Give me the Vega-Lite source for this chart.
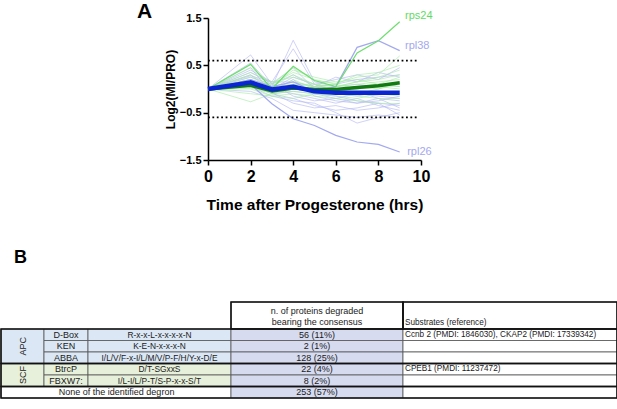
{
"$schema": "https://vega.github.io/schema/vega-lite/v6.json",
"padding": 0,
"background": "white",
"config": {"view": {"stroke": null}, "font": "Liberation Sans", "text": {"font": "Liberation Sans"}},
"datasets": {
"series": [
{"p":"L01","g":"RPL","t":0,"v":0},{"p":"L01","g":"RPL","t":2,"v":0.72},{"p":"L01","g":"RPL","t":3,"v":0.10},{"p":"L01","g":"RPL","t":4,"v":0.30},{"p":"L01","g":"RPL","t":5,"v":0.05},{"p":"L01","g":"RPL","t":6,"v":0.10},{"p":"L01","g":"RPL","t":7,"v":0.20},{"p":"L01","g":"RPL","t":8,"v":0.25},{"p":"L01","g":"RPL","t":9,"v":0.30},
{"p":"L02","g":"RPL","t":0,"v":0},{"p":"L02","g":"RPL","t":2,"v":0.55},{"p":"L02","g":"RPL","t":3,"v":0.05},{"p":"L02","g":"RPL","t":4,"v":1.03},{"p":"L02","g":"RPL","t":5,"v":0.15},{"p":"L02","g":"RPL","t":6,"v":0.05},{"p":"L02","g":"RPL","t":7,"v":0.10},{"p":"L02","g":"RPL","t":8,"v":0.05},{"p":"L02","g":"RPL","t":9,"v":0.15},
{"p":"L03","g":"RPL","t":0,"v":0},{"p":"L03","g":"RPL","t":2,"v":0.40},{"p":"L03","g":"RPL","t":3,"v":0.15},{"p":"L03","g":"RPL","t":4,"v":0.85},{"p":"L03","g":"RPL","t":5,"v":0.10},{"p":"L03","g":"RPL","t":6,"v":-0.05},{"p":"L03","g":"RPL","t":7,"v":0.00},{"p":"L03","g":"RPL","t":8,"v":0.10},{"p":"L03","g":"RPL","t":9,"v":0.05},
{"p":"L04","g":"RPL","t":0,"v":0},{"p":"L04","g":"RPL","t":2,"v":0.30},{"p":"L04","g":"RPL","t":3,"v":-0.05},{"p":"L04","g":"RPL","t":4,"v":0.20},{"p":"L04","g":"RPL","t":5,"v":-0.15},{"p":"L04","g":"RPL","t":6,"v":-0.25},{"p":"L04","g":"RPL","t":7,"v":-0.30},{"p":"L04","g":"RPL","t":8,"v":-0.20},{"p":"L04","g":"RPL","t":9,"v":-0.40},
{"p":"L05","g":"RPL","t":0,"v":0},{"p":"L05","g":"RPL","t":2,"v":0.20},{"p":"L05","g":"RPL","t":3,"v":0.00},{"p":"L05","g":"RPL","t":4,"v":-0.10},{"p":"L05","g":"RPL","t":5,"v":-0.20},{"p":"L05","g":"RPL","t":6,"v":-0.30},{"p":"L05","g":"RPL","t":7,"v":-0.20},{"p":"L05","g":"RPL","t":8,"v":-0.35},{"p":"L05","g":"RPL","t":9,"v":-0.45},
{"p":"L06","g":"RPL","t":0,"v":0},{"p":"L06","g":"RPL","t":2,"v":0.10},{"p":"L06","g":"RPL","t":3,"v":-0.10},{"p":"L06","g":"RPL","t":4,"v":-0.20},{"p":"L06","g":"RPL","t":5,"v":-0.35},{"p":"L06","g":"RPL","t":6,"v":-0.45},{"p":"L06","g":"RPL","t":7,"v":-0.40},{"p":"L06","g":"RPL","t":8,"v":-0.30},{"p":"L06","g":"RPL","t":9,"v":-0.55},
{"p":"L07","g":"RPL","t":0,"v":0},{"p":"L07","g":"RPL","t":2,"v":0.05},{"p":"L07","g":"RPL","t":3,"v":-0.15},{"p":"L07","g":"RPL","t":4,"v":-0.25},{"p":"L07","g":"RPL","t":5,"v":-0.30},{"p":"L07","g":"RPL","t":6,"v":-0.50},{"p":"L07","g":"RPL","t":7,"v":-0.72},{"p":"L07","g":"RPL","t":8,"v":-0.60},{"p":"L07","g":"RPL","t":9,"v":-0.50},
{"p":"L08","g":"RPL","t":0,"v":0},{"p":"L08","g":"RPL","t":2,"v":0.25},{"p":"L08","g":"RPL","t":3,"v":0.10},{"p":"L08","g":"RPL","t":4,"v":0.45},{"p":"L08","g":"RPL","t":5,"v":0.00},{"p":"L08","g":"RPL","t":6,"v":-0.10},{"p":"L08","g":"RPL","t":7,"v":-0.15},{"p":"L08","g":"RPL","t":8,"v":-0.05},{"p":"L08","g":"RPL","t":9,"v":-0.10},
{"p":"L09","g":"RPL","t":0,"v":0},{"p":"L09","g":"RPL","t":2,"v":0.15},{"p":"L09","g":"RPL","t":3,"v":0.05},{"p":"L09","g":"RPL","t":4,"v":0.10},{"p":"L09","g":"RPL","t":5,"v":-0.10},{"p":"L09","g":"RPL","t":6,"v":-0.15},{"p":"L09","g":"RPL","t":7,"v":-0.25},{"p":"L09","g":"RPL","t":8,"v":-0.30},{"p":"L09","g":"RPL","t":9,"v":-0.35},
{"p":"L10","g":"RPL","t":0,"v":0},{"p":"L10","g":"RPL","t":2,"v":0.35},{"p":"L10","g":"RPL","t":3,"v":0.12},{"p":"L10","g":"RPL","t":4,"v":-0.15},{"p":"L10","g":"RPL","t":5,"v":-0.25},{"p":"L10","g":"RPL","t":6,"v":-0.20},{"p":"L10","g":"RPL","t":7,"v":-0.10},{"p":"L10","g":"RPL","t":8,"v":-0.15},{"p":"L10","g":"RPL","t":9,"v":-0.20},
{"p":"L11","g":"RPL","t":0,"v":0},{"p":"L11","g":"RPL","t":2,"v":-0.05},{"p":"L11","g":"RPL","t":3,"v":-0.20},{"p":"L11","g":"RPL","t":4,"v":-0.45},{"p":"L11","g":"RPL","t":5,"v":-0.50},{"p":"L11","g":"RPL","t":6,"v":-0.55},{"p":"L11","g":"RPL","t":7,"v":-0.60},{"p":"L11","g":"RPL","t":8,"v":-0.55},{"p":"L11","g":"RPL","t":9,"v":-0.60},
{"p":"L12","g":"RPL","t":0,"v":0},{"p":"L12","g":"RPL","t":2,"v":0.18},{"p":"L12","g":"RPL","t":3,"v":0.00},{"p":"L12","g":"RPL","t":4,"v":0.25},{"p":"L12","g":"RPL","t":5,"v":0.10},{"p":"L12","g":"RPL","t":6,"v":0.20},{"p":"L12","g":"RPL","t":7,"v":0.30},{"p":"L12","g":"RPL","t":8,"v":0.20},{"p":"L12","g":"RPL","t":9,"v":0.45},
{"p":"L13","g":"RPL","t":0,"v":0},{"p":"L13","g":"RPL","t":2,"v":0.10},{"p":"L13","g":"RPL","t":3,"v":-0.05},{"p":"L13","g":"RPL","t":4,"v":0.05},{"p":"L13","g":"RPL","t":5,"v":-0.05},{"p":"L13","g":"RPL","t":6,"v":-0.10},{"p":"L13","g":"RPL","t":7,"v":-0.05},{"p":"L13","g":"RPL","t":8,"v":-0.20},{"p":"L13","g":"RPL","t":9,"v":-0.25},
{"p":"L14","g":"RPL","t":0,"v":0},{"p":"L14","g":"RPL","t":2,"v":0.28},{"p":"L14","g":"RPL","t":3,"v":0.15},{"p":"L14","g":"RPL","t":4,"v":0.15},{"p":"L14","g":"RPL","t":5,"v":0.05},{"p":"L14","g":"RPL","t":6,"v":0.25},{"p":"L14","g":"RPL","t":7,"v":0.15},{"p":"L14","g":"RPL","t":8,"v":0.35},{"p":"L14","g":"RPL","t":9,"v":0.25},
{"p":"L15","g":"RPL","t":0,"v":0},{"p":"L15","g":"RPL","t":2,"v":0.45},{"p":"L15","g":"RPL","t":3,"v":-0.10},{"p":"L15","g":"RPL","t":4,"v":-0.05},{"p":"L15","g":"RPL","t":5,"v":-0.10},{"p":"L15","g":"RPL","t":6,"v":-0.20},{"p":"L15","g":"RPL","t":7,"v":-0.30},{"p":"L15","g":"RPL","t":8,"v":-0.25},{"p":"L15","g":"RPL","t":9,"v":-0.15},
{"p":"L16","g":"RPL","t":0,"v":0},{"p":"L16","g":"RPL","t":2,"v":0.12},{"p":"L16","g":"RPL","t":3,"v":-0.08},{"p":"L16","g":"RPL","t":4,"v":-0.30},{"p":"L16","g":"RPL","t":5,"v":-0.40},{"p":"L16","g":"RPL","t":6,"v":-0.35},{"p":"L16","g":"RPL","t":7,"v":-0.45},{"p":"L16","g":"RPL","t":8,"v":-0.40},{"p":"L16","g":"RPL","t":9,"v":-0.30},
{"p":"rpl38","g":"RPL","t":0,"v":0},{"p":"rpl38","g":"RPL","t":2,"v":0.20},{"p":"rpl38","g":"RPL","t":3,"v":0.05},{"p":"rpl38","g":"RPL","t":4,"v":0.15},{"p":"rpl38","g":"RPL","t":5,"v":-0.05},{"p":"rpl38","g":"RPL","t":6,"v":0.05},{"p":"rpl38","g":"RPL","t":7,"v":0.88},{"p":"rpl38","g":"RPL","t":8,"v":1.02},{"p":"rpl38","g":"RPL","t":9,"v":0.81},
{"p":"rpl26","g":"RPL","t":0,"v":0},{"p":"rpl26","g":"RPL","t":2,"v":0.10},{"p":"rpl26","g":"RPL","t":3,"v":-0.31},{"p":"rpl26","g":"RPL","t":4,"v":-0.63},{"p":"rpl26","g":"RPL","t":5,"v":-0.77},{"p":"rpl26","g":"RPL","t":6,"v":-0.98},{"p":"rpl26","g":"RPL","t":7,"v":-1.12},{"p":"rpl26","g":"RPL","t":8,"v":-1.17},{"p":"rpl26","g":"RPL","t":9,"v":-1.33},
{"p":"S01","g":"RPS","t":0,"v":0},{"p":"S01","g":"RPS","t":2,"v":0.45},{"p":"S01","g":"RPS","t":3,"v":0.12},{"p":"S01","g":"RPS","t":4,"v":0.45},{"p":"S01","g":"RPS","t":5,"v":0.18},{"p":"S01","g":"RPS","t":6,"v":0.12},{"p":"S01","g":"RPS","t":7,"v":0.25},{"p":"S01","g":"RPS","t":8,"v":0.30},{"p":"S01","g":"RPS","t":9,"v":0.70},
{"p":"S02","g":"RPS","t":0,"v":0},{"p":"S02","g":"RPS","t":2,"v":-0.27},{"p":"S02","g":"RPS","t":3,"v":-0.10},{"p":"S02","g":"RPS","t":4,"v":0.00},{"p":"S02","g":"RPS","t":5,"v":-0.05},{"p":"S02","g":"RPS","t":6,"v":0.00},{"p":"S02","g":"RPS","t":7,"v":0.05},{"p":"S02","g":"RPS","t":8,"v":0.10},{"p":"S02","g":"RPS","t":9,"v":0.05},
{"p":"S03","g":"RPS","t":0,"v":0},{"p":"S03","g":"RPS","t":2,"v":0.30},{"p":"S03","g":"RPS","t":3,"v":0.05},{"p":"S03","g":"RPS","t":4,"v":0.30},{"p":"S03","g":"RPS","t":5,"v":0.10},{"p":"S03","g":"RPS","t":6,"v":0.05},{"p":"S03","g":"RPS","t":7,"v":0.15},{"p":"S03","g":"RPS","t":8,"v":0.25},{"p":"S03","g":"RPS","t":9,"v":0.40},
{"p":"S04","g":"RPS","t":0,"v":0},{"p":"S04","g":"RPS","t":2,"v":0.20},{"p":"S04","g":"RPS","t":3,"v":-0.05},{"p":"S04","g":"RPS","t":4,"v":0.20},{"p":"S04","g":"RPS","t":5,"v":0.00},{"p":"S04","g":"RPS","t":6,"v":0.05},{"p":"S04","g":"RPS","t":7,"v":0.10},{"p":"S04","g":"RPS","t":8,"v":0.15},{"p":"S04","g":"RPS","t":9,"v":0.20},
{"p":"S05","g":"RPS","t":0,"v":0},{"p":"S05","g":"RPS","t":2,"v":0.10},{"p":"S05","g":"RPS","t":3,"v":0.00},{"p":"S05","g":"RPS","t":4,"v":0.10},{"p":"S05","g":"RPS","t":5,"v":0.05},{"p":"S05","g":"RPS","t":6,"v":-0.05},{"p":"S05","g":"RPS","t":7,"v":-0.10},{"p":"S05","g":"RPS","t":8,"v":0.00},{"p":"S05","g":"RPS","t":9,"v":0.10},
{"p":"S06","g":"RPS","t":0,"v":0},{"p":"S06","g":"RPS","t":2,"v":0.05},{"p":"S06","g":"RPS","t":3,"v":-0.10},{"p":"S06","g":"RPS","t":4,"v":-0.05},{"p":"S06","g":"RPS","t":5,"v":-0.10},{"p":"S06","g":"RPS","t":6,"v":-0.15},{"p":"S06","g":"RPS","t":7,"v":-0.20},{"p":"S06","g":"RPS","t":8,"v":-0.10},{"p":"S06","g":"RPS","t":9,"v":-0.05},
{"p":"S07","g":"RPS","t":0,"v":0},{"p":"S07","g":"RPS","t":2,"v":0.15},{"p":"S07","g":"RPS","t":3,"v":0.10},{"p":"S07","g":"RPS","t":4,"v":0.35},{"p":"S07","g":"RPS","t":5,"v":0.20},{"p":"S07","g":"RPS","t":6,"v":0.10},{"p":"S07","g":"RPS","t":7,"v":0.30},{"p":"S07","g":"RPS","t":8,"v":0.35},{"p":"S07","g":"RPS","t":9,"v":0.50},
{"p":"S08","g":"RPS","t":0,"v":0},{"p":"S08","g":"RPS","t":2,"v":0.00},{"p":"S08","g":"RPS","t":3,"v":-0.15},{"p":"S08","g":"RPS","t":4,"v":-0.10},{"p":"S08","g":"RPS","t":5,"v":-0.15},{"p":"S08","g":"RPS","t":6,"v":-0.20},{"p":"S08","g":"RPS","t":7,"v":-0.25},{"p":"S08","g":"RPS","t":8,"v":-0.30},{"p":"S08","g":"RPS","t":9,"v":-0.31},
{"p":"S09","g":"RPS","t":0,"v":0},{"p":"S09","g":"RPS","t":2,"v":0.25},{"p":"S09","g":"RPS","t":3,"v":0.05},{"p":"S09","g":"RPS","t":4,"v":0.15},{"p":"S09","g":"RPS","t":5,"v":0.05},{"p":"S09","g":"RPS","t":6,"v":0.10},{"p":"S09","g":"RPS","t":7,"v":0.00},{"p":"S09","g":"RPS","t":8,"v":0.05},{"p":"S09","g":"RPS","t":9,"v":0.00},
{"p":"S10","g":"RPS","t":0,"v":0},{"p":"S10","g":"RPS","t":2,"v":0.08},{"p":"S10","g":"RPS","t":3,"v":-0.05},{"p":"S10","g":"RPS","t":4,"v":0.05},{"p":"S10","g":"RPS","t":5,"v":0.00},{"p":"S10","g":"RPS","t":6,"v":0.05},{"p":"S10","g":"RPS","t":7,"v":0.15},{"p":"S10","g":"RPS","t":8,"v":0.20},{"p":"S10","g":"RPS","t":9,"v":0.30},
{"p":"S11","g":"RPS","t":0,"v":0},{"p":"S11","g":"RPS","t":2,"v":0.35},{"p":"S11","g":"RPS","t":3,"v":0.15},{"p":"S11","g":"RPS","t":4,"v":0.25},{"p":"S11","g":"RPS","t":5,"v":0.10},{"p":"S11","g":"RPS","t":6,"v":-0.05},{"p":"S11","g":"RPS","t":7,"v":-0.05},{"p":"S11","g":"RPS","t":8,"v":-0.10},{"p":"S11","g":"RPS","t":9,"v":-0.15},
{"p":"S12","g":"RPS","t":0,"v":0},{"p":"S12","g":"RPS","t":2,"v":-0.10},{"p":"S12","g":"RPS","t":3,"v":-0.15},{"p":"S12","g":"RPS","t":4,"v":-0.20},{"p":"S12","g":"RPS","t":5,"v":-0.10},{"p":"S12","g":"RPS","t":6,"v":-0.10},{"p":"S12","g":"RPS","t":7,"v":-0.15},{"p":"S12","g":"RPS","t":8,"v":-0.20},{"p":"S12","g":"RPS","t":9,"v":-0.20},
{"p":"S13","g":"RPS","t":0,"v":0},{"p":"S13","g":"RPS","t":2,"v":0.12},{"p":"S13","g":"RPS","t":3,"v":0.05},{"p":"S13","g":"RPS","t":4,"v":0.40},{"p":"S13","g":"RPS","t":5,"v":0.25},{"p":"S13","g":"RPS","t":6,"v":0.15},{"p":"S13","g":"RPS","t":7,"v":0.20},{"p":"S13","g":"RPS","t":8,"v":0.10},{"p":"S13","g":"RPS","t":9,"v":0.25},
{"p":"S14","g":"RPS","t":0,"v":0},{"p":"S14","g":"RPS","t":2,"v":0.02},{"p":"S14","g":"RPS","t":3,"v":-0.08},{"p":"S14","g":"RPS","t":4,"v":0.10},{"p":"S14","g":"RPS","t":5,"v":0.10},{"p":"S14","g":"RPS","t":6,"v":0.00},{"p":"S14","g":"RPS","t":7,"v":0.05},{"p":"S14","g":"RPS","t":8,"v":0.00},{"p":"S14","g":"RPS","t":9,"v":0.15},
{"p":"rps24","g":"RPS","t":0,"v":0},{"p":"rps24","g":"RPS","t":2,"v":0.52},{"p":"rps24","g":"RPS","t":3,"v":0.00},{"p":"rps24","g":"RPS","t":4,"v":0.48},{"p":"rps24","g":"RPS","t":5,"v":0.18},{"p":"rps24","g":"RPS","t":6,"v":0.05},{"p":"rps24","g":"RPS","t":7,"v":0.76},{"p":"rps24","g":"RPS","t":8,"v":1.02},{"p":"rps24","g":"RPS","t":9,"v":1.42}
],
"means": [
{"g":"RPS mean","t":0,"v":0},{"g":"RPS mean","t":2,"v":0.08},{"g":"RPS mean","t":3,"v":-0.04},{"g":"RPS mean","t":4,"v":0.02},{"g":"RPS mean","t":5,"v":-0.01},{"g":"RPS mean","t":6,"v":-0.01},{"g":"RPS mean","t":7,"v":0.03},{"g":"RPS mean","t":8,"v":0.07},{"g":"RPS mean","t":9,"v":0.13},
{"g":"RPL mean","t":0,"v":0},{"g":"RPL mean","t":2,"v":0.14},{"g":"RPL mean","t":3,"v":-0.01},{"g":"RPL mean","t":4,"v":0.05},{"g":"RPL mean","t":5,"v":-0.05},{"g":"RPL mean","t":6,"v":-0.08},{"g":"RPL mean","t":7,"v":-0.08},{"g":"RPL mean","t":8,"v":-0.08},{"g":"RPL mean","t":9,"v":-0.08}
],
"thresholds": [{"y":0.6,"x0":0,"x1":9.8},{"y":-0.6,"x0":0,"x1":9.8}],
"labels": [{"label":"rps24","g":"RPS","t":9.25,"v":1.55},{"label":"rpl38","g":"RPL","t":9.25,"v":0.91},{"label":"rpl26","g":"RPL","t":9.35,"v":-1.33}],
"cells": [
{"c0":3,"c1":4,"r0":0,"r1":1,"k":"plain"},{"c0":4,"c1":5,"r0":0,"r1":1,"k":"plain"},
{"c0":0,"c1":1,"r0":1,"r1":4,"k":"APC"},
{"c0":1,"c1":2,"r0":1,"r1":2,"k":"APC"},{"c0":2,"c1":3,"r0":1,"r1":2,"k":"APC"},{"c0":3,"c1":4,"r0":1,"r1":2,"k":"count"},{"c0":4,"c1":5,"r0":1,"r1":2,"k":"plain"},
{"c0":1,"c1":2,"r0":2,"r1":3,"k":"APC"},{"c0":2,"c1":3,"r0":2,"r1":3,"k":"APC"},{"c0":3,"c1":4,"r0":2,"r1":3,"k":"count"},{"c0":4,"c1":5,"r0":2,"r1":3,"k":"plain"},
{"c0":1,"c1":2,"r0":3,"r1":4,"k":"APC"},{"c0":2,"c1":3,"r0":3,"r1":4,"k":"APC"},{"c0":3,"c1":4,"r0":3,"r1":4,"k":"count"},{"c0":4,"c1":5,"r0":3,"r1":4,"k":"plain"},
{"c0":0,"c1":1,"r0":4,"r1":6,"k":"SCF"},
{"c0":1,"c1":2,"r0":4,"r1":5,"k":"SCF"},{"c0":2,"c1":3,"r0":4,"r1":5,"k":"SCF"},{"c0":3,"c1":4,"r0":4,"r1":5,"k":"count"},{"c0":4,"c1":5,"r0":4,"r1":5,"k":"plain"},
{"c0":1,"c1":2,"r0":5,"r1":6,"k":"SCF"},{"c0":2,"c1":3,"r0":5,"r1":6,"k":"SCF"},{"c0":3,"c1":4,"r0":5,"r1":6,"k":"count"},{"c0":4,"c1":5,"r0":5,"r1":6,"k":"plain"},
{"c0":0,"c1":3,"r0":6,"r1":7,"k":"plain"},{"c0":3,"c1":4,"r0":6,"r1":7,"k":"count"},{"c0":4,"c1":5,"r0":6,"r1":7,"k":"plain"}
],
"frames": [
{"c0":0,"c1":5,"r0":1,"r1":4},{"c0":0,"c1":5,"r0":4,"r1":6},{"c0":0,"c1":5,"r0":6,"r1":7},{"c0":3,"c1":4,"r0":0,"r1":1},{"c0":4,"c1":5,"r0":0,"r1":1}
],
"texts": [
{"txt":["n. of proteins degraded","bearing the consensus"],"col":"count","xm":3.5,"ym":0.33},
{"txt":"Substrates (reference)","col":"substrates","xm":4,"ym":0.78},
{"txt":"APC","col":"group","xm":0.5,"ym":2.5},
{"txt":"SCF","col":"group","xm":0.5,"ym":5},
{"txt":"D-Box","col":"degron","xm":1.5,"ym":1.5},
{"txt":"R-x-x-L-x-x-x-x-N","col":"consensus","xm":2.5,"ym":1.5},
{"txt":"56 (11%)","col":"count","xm":3.5,"ym":1.5},
{"txt":"Ccnb 2 (PMDI: 1846030), CKAP2 (PMDI: 17339342)","col":"substrates","xm":4,"ym":1.5},
{"txt":"KEN","col":"degron","xm":1.5,"ym":2.5},
{"txt":"K-E-N-x-x-x-N","col":"consensus","xm":2.5,"ym":2.5},
{"txt":"2 (1%)","col":"count","xm":3.5,"ym":2.5},
{"txt":"ABBA","col":"degron","xm":1.5,"ym":3.5},
{"txt":"I/L/V/F-x-I/L/M/V/P-F/H/Y-x-D/E","col":"consensus","xm":2.5,"ym":3.5},
{"txt":"128 (25%)","col":"count","xm":3.5,"ym":3.5},
{"txt":"BtrcP","col":"degron","xm":1.5,"ym":4.5},
{"txt":"D/T-SGxxS","col":"consensus","xm":2.5,"ym":4.5},
{"txt":"22 (4%)","col":"count","xm":3.5,"ym":4.5},
{"txt":"CPEB1 (PMDI: 11237472)","col":"substrates","xm":4,"ym":4.5},
{"txt":"FBXW7:","col":"degron","xm":1.5,"ym":5.5},
{"txt":"I/L-I/L/P-T/S-P-x-x-S/T","col":"consensus","xm":2.5,"ym":5.5},
{"txt":"8 (2%)","col":"count","xm":3.5,"ym":5.5},
{"txt":"None of the identified degron","col":"none","xm":2.2,"ym":6.5},
{"txt":"253 (57%)","col":"count","xm":3.5,"ym":6.5}
]
},
"spacing": 36,
"vconcat": [
{
"spacing": 0,
"hconcat": [
{"width": 136, "height": 10, "data": {"values": []}, "mark": "point"},
{
"width": 213,
"height": 142,
"title": {"text": "A", "anchor": "start", "frame": "group", "fontSize": 21, "fontWeight": "bold", "font": "Liberation Sans", "dx": -71, "offset": -12, "color": "black"},
"layer": [
{
"data": {"name": "series"},
"transform": [{"filter": {"not": {"field": "p", "oneOf": ["rps24", "rpl38", "rpl26"]}}}],
"mark": {"type": "line", "strokeWidth": 0.9, "opacity": 0.7},
"encoding": {
"x": {"field": "t", "type": "quantitative", "scale": {"domain": [0, 10], "nice": false},
"axis": {"values": [0, 2, 4, 6, 8, 10], "title": "Time after Progesterone (hrs)", "titleFontSize": 15.5, "titleFontWeight": "bold", "titleColor": "black", "titleFont": "Liberation Sans", "titlePadding": 13, "labelFontSize": 16, "labelFontWeight": "bold", "labelColor": "black", "labelFont": "Liberation Sans", "labelPadding": 3, "labelFlush": false, "domainColor": "black", "domainWidth": 1.5, "tickColor": "black", "tickWidth": 1.5, "tickSize": 5, "grid": false}},
"y": {"field": "v", "type": "quantitative", "scale": {"domain": [-1.5, 1.5], "nice": false},
"axis": {"values": [-1.5, -1, -0.5, 0, 0.5, 1, 1.5], "format": ".1f", "title": "Log2(MI/PRO)", "titleFontSize": 12, "titleFontWeight": "bold", "titleColor": "black", "titleFont": "Liberation Sans", "titlePadding": 2, "labelFontSize": 11, "labelFontWeight": "bold", "labelColor": "black", "labelFont": "Liberation Sans", "labelPadding": 2, "domainColor": "black", "domainWidth": 1.5, "tickColor": "black", "tickWidth": 1.5, "tickSize": 5, "grid": false}},
"detail": {"field": "p", "type": "nominal"},
"color": {"field": "g", "type": "nominal", "scale": {"domain": ["RPL", "RPS"], "range": ["#b2b7f2", "#a6eba6"]}, "legend": null}
}
},
{
"data": {"name": "series"},
"transform": [{"filter": {"field": "p", "oneOf": ["rps24", "rpl38", "rpl26"]}}],
"mark": {"type": "line", "strokeWidth": 1.2},
"encoding": {
"x": {"field": "t", "type": "quantitative"},
"y": {"field": "v", "type": "quantitative"},
"detail": {"field": "p", "type": "nominal"},
"color": {"field": "g", "type": "nominal", "scale": {"domain": ["RPL", "RPS"], "range": ["#a3a9ef", "#6ede6e"]}, "legend": null}
}
},
{
"data": {"name": "thresholds"},
"mark": {"type": "rule", "color": "black", "strokeWidth": 1.8, "strokeDash": [1.8, 2.6]},
"encoding": {"y": {"field": "y", "type": "quantitative"}, "x": {"field": "x0", "type": "quantitative"}, "x2": {"field": "x1"}}
},
{
"data": {"name": "means"},
"mark": {"type": "line", "strokeJoin": "round"},
"encoding": {
"x": {"field": "t", "type": "quantitative"},
"y": {"field": "v", "type": "quantitative"},
"detail": {"field": "g", "type": "nominal"},
"order": {"field": "t", "type": "quantitative"},
"color": {"field": "g", "type": "nominal", "scale": {"domain": ["RPS mean", "RPL mean"], "range": ["#127a12", "#0a25d2"]}, "legend": null},
"strokeWidth": {"field": "g", "type": "nominal", "scale": {"domain": ["RPS mean", "RPL mean"], "range": [3.5, 4.5]}, "legend": null}
}
},
{
"data": {"name": "labels"},
"mark": {"type": "text", "align": "left", "baseline": "middle", "fontSize": 11, "font": "Liberation Sans"},
"encoding": {
"x": {"field": "t", "type": "quantitative"},
"y": {"field": "v", "type": "quantitative"},
"text": {"field": "label"},
"color": {"field": "g", "type": "nominal", "scale": {"domain": ["RPL", "RPS"], "range": ["#a3a9ef", "#5fdc5f"]}, "legend": null}
}
}
],
"resolve": {"scale": {"color": "independent", "strokeWidth": "independent"}}
}
]
},
{
"width": 616,
"height": 96,
"title": {"text": "B", "anchor": "start", "frame": "group", "fontSize": 18, "fontWeight": "bold", "font": "Liberation Sans", "dx": 13, "offset": 34, "color": "black"},
"layer": [
{
"data": {"name": "cells"},
"mark": {"type": "rect", "stroke": "#555555", "strokeWidth": 0.8},
"encoding": {
"x": {"field": "c0", "type": "quantitative", "scale": {"domain": [0, 1, 2, 3, 4, 5], "range": [0, 43, 87, 230, 402, 616], "nice": false, "zero": false}, "axis": null},
"x2": {"field": "c1"},
"y": {"field": "r0", "type": "quantitative", "scale": {"domain": [0, 1, 2, 3, 4, 5, 6, 7], "range": [0, 27, 38.5, 50, 61.5, 73, 84.5, 96], "nice": false, "zero": false}, "axis": null},
"y2": {"field": "r1"},
"fill": {"field": "k", "type": "nominal", "scale": {"domain": ["APC", "SCF", "count", "plain"], "range": ["#dbe7f4", "#e7f0da", "#d6dbf0", "#ffffff"]}, "legend": null}
}
},
{
"data": {"name": "frames"},
"mark": {"type": "rect", "fill": null, "fillOpacity": 0, "stroke": "#111111", "strokeWidth": 1.6},
"encoding": {
"x": {"field": "c0", "type": "quantitative"},
"x2": {"field": "c1"},
"y": {"field": "r0", "type": "quantitative"},
"y2": {"field": "r1"}
}
},
{
"data": {"name": "texts"},
"transform": [{"filter": {"field": "col", "oneOf": ["count", "degron", "none"]}}],
"mark": {"type": "text", "align": "center", "baseline": "middle", "fontSize": 9, "color": "#1a1a1a", "lineHeight": 11.5},
"encoding": {"x": {"field": "xm", "type": "quantitative"}, "y": {"field": "ym", "type": "quantitative"}, "text": {"field": "txt"}}
},
{
"data": {"name": "texts"},
"transform": [{"filter": {"field": "col", "equal": "consensus"}}],
"mark": {"type": "text", "align": "center", "baseline": "middle", "fontSize": 8.4, "color": "#1a1a1a"},
"encoding": {"x": {"field": "xm", "type": "quantitative"}, "y": {"field": "ym", "type": "quantitative"}, "text": {"field": "txt"}}
},
{
"data": {"name": "texts"},
"transform": [{"filter": {"field": "col", "equal": "substrates"}}],
"mark": {"type": "text", "align": "left", "baseline": "middle", "fontSize": 8.2, "color": "#1a1a1a", "dx": 2},
"encoding": {"x": {"field": "xm", "type": "quantitative"}, "y": {"field": "ym", "type": "quantitative"}, "text": {"field": "txt"}}
},
{
"data": {"name": "texts"},
"transform": [{"filter": {"field": "col", "equal": "group"}}],
"mark": {"type": "text", "align": "center", "baseline": "middle", "fontSize": 9, "color": "#1a1a1a", "angle": 270},
"encoding": {"x": {"field": "xm", "type": "quantitative"}, "y": {"field": "ym", "type": "quantitative"}, "text": {"field": "txt"}}
}
]
}
]
}
